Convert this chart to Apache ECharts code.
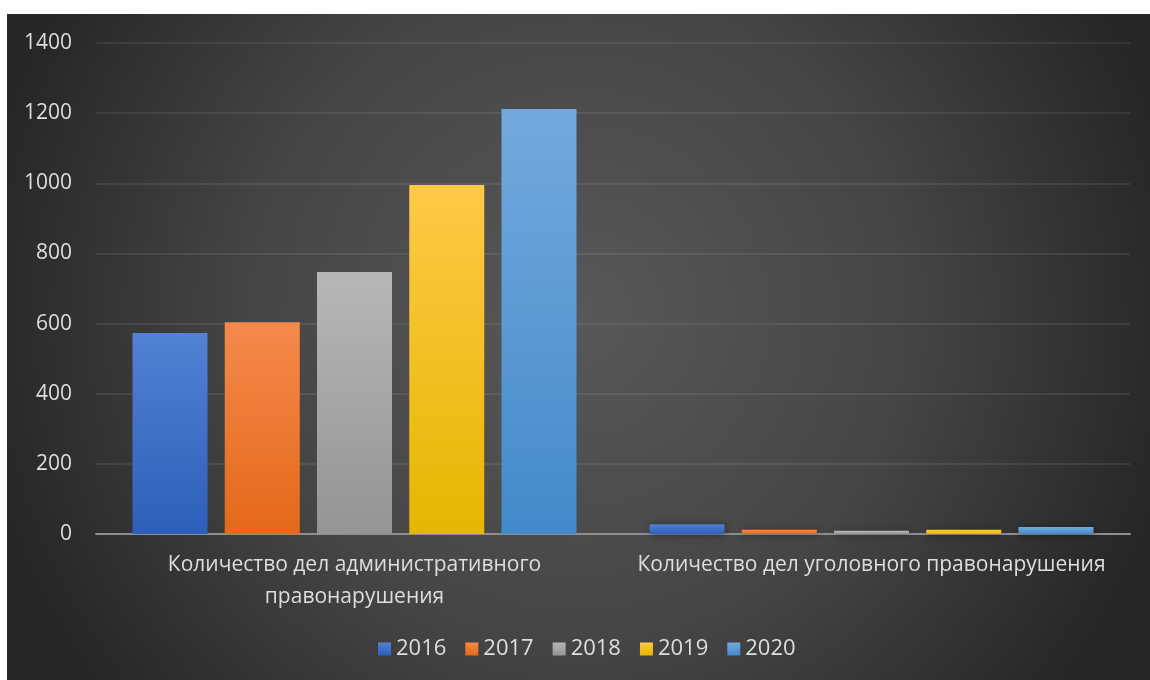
<!DOCTYPE html>
<html>
<head>
<meta charset="utf-8">
<script src="https://cdn.jsdelivr.net/npm/echarts@6/dist/echarts.min.js"></script>
<style>
  html, body { margin: 0; padding: 0; background: #ffffff; }
  #chart { position: absolute; left: 7px; top: 14px; width: 1143px; height: 666px; }
</style>
</head>
<body>
<div id="chart"></div>
<script>
// Categories (x axis) and yearly series
const categories = [
  'Количество дел административного правонарушения',
  'Количество дел уголовного правонарушения'
];
const years = ['2016', '2017', '2018', '2019', '2020'];
const values2016 = [573, 28];
const values2017 = [604, 12];
const values2018 = [747, 9];
const values2019 = [995, 12];
const values2020 = [1212, 20];
const yTicks = [0, 200, 400, 600, 800, 1000, 1200, 1400];

// Vertical bar gradients: lighter at the top, deeper at the base
const palette = [
  ['#5282d3', '#2d5eba'],
  ['#f5894c', '#e46919'],
  ['#b7b7b7', '#949494'],
  ['#ffc947', '#e5b700'],
  ['#74a9de', '#428aca']
];
const seriesValues = [values2016, values2017, values2018, values2019, values2020];

function barGradient(pair) {
  return new echarts.graphic.LinearGradient(0, 0, 0, 1, [
    { offset: 0, color: pair[0] },
    { offset: 1, color: pair[1] }
  ]);
}

// Word-wrap a category name so that no line exceeds maxChars characters
function wrapWords(text, maxChars) {
  const words = text.split(' ');
  const lines = [];
  let line = '';
  words.forEach(w => {
    const candidate = line ? line + ' ' + w : w;
    if (candidate.length > maxChars && line) {
      lines.push(line);
      line = w;
    } else {
      line = candidate;
    }
  });
  if (line) lines.push(line);
  return lines.join('\n');
}

const textColor = '#dedede';
const fontFamily = '"Open Sans", "Noto Sans", sans-serif';

const chart = echarts.init(document.getElementById('chart'), null, { renderer: 'canvas' });

chart.setOption({
  backgroundColor: {
    type: 'radial', x: 0.5, y: 0.45, r: 0.9,
    colorStops: [
      { offset: 0, color: '#585858' },
      { offset: 0.55, color: '#454545' },
      { offset: 1, color: '#272727' }
    ]
  },
  textStyle: { fontFamily: fontFamily },
  grid: { left: 89, right: 20, top: 29, bottom: 146, containLabel: false },
  legend: {
    data: years,
    left: 366,
    top: 619,
    itemWidth: 13,
    itemHeight: 13,
    itemGap: 19,
    icon: 'rect',
    textStyle: { color: textColor, fontSize: 22, fontFamily: fontFamily }
  },
  xAxis: {
    type: 'category',
    data: categories,
    axisLine: { lineStyle: { color: '#8f8f8f', width: 2 } },
    axisTick: { show: false },
    axisLabel: {
      color: textColor,
      fontSize: 21,
      fontFamily: fontFamily,
      interval: 0,
      margin: 15,
      lineHeight: 32,
      align: 'center',
      overflow: 'none',
      formatter: v => wrapWords(v, 40)
    }
  },
  yAxis: {
    type: 'value',
    min: yTicks[0],
    max: yTicks[yTicks.length - 1],
    interval: 200,
    axisLine: { show: false },
    axisTick: { show: false },
    axisLabel: {
      color: textColor, fontSize: 21, fontFamily: fontFamily, margin: 24,
      formatter: v => String(v)
    },
    splitLine: { lineStyle: { color: 'rgba(255,255,255,0.08)', width: 2 } }
  },
  series: years.map((y, i) => ({
    name: y,
    type: 'bar',
    data: seriesValues[i],
    barWidth: 75,
    barGap: '23%',
    itemStyle: {
      color: barGradient(palette[i]),
      shadowColor: 'rgba(0,0,0,0.45)',
      shadowBlur: 8,
      shadowOffsetX: 1,
      shadowOffsetY: 1
    }
  }))
});
</script>
</body>
</html>
